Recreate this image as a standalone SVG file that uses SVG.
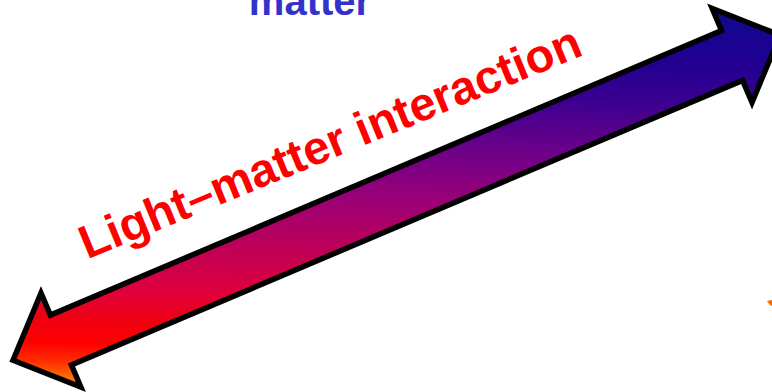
<svg xmlns="http://www.w3.org/2000/svg" width="772" height="392" viewBox="0 0 772 392">
  <style>
    .lbl { font-family: "Liberation Sans", Arial, sans-serif; font-weight: bold; }
    .arrow { stroke: #000000; stroke-width: 5.5; stroke-linejoin: miter; stroke-miterlimit: 10; }
  </style>
  <defs>
    <linearGradient id="grad" gradientUnits="userSpaceOnUse" x1="390" y1="5" x2="380" y2="390">
      <stop offset="0" stop-color="#100890"/>
      <stop offset="0.12" stop-color="#200090"/>
      <stop offset="0.23" stop-color="#3a0090"/>
      <stop offset="0.38" stop-color="#700088"/>
      <stop offset="0.5" stop-color="#9a0078"/>
      <stop offset="0.63" stop-color="#bc005a"/>
      <stop offset="0.76" stop-color="#e0003c"/>
      <stop offset="0.84" stop-color="#f00010"/>
      <stop offset="0.9" stop-color="#ff0000"/>
      <stop offset="0.95" stop-color="#ff3000"/>
      <stop offset="1" stop-color="#ff8000"/>
    </linearGradient>
  </defs>
  <rect width="772" height="392" fill="#ffffff"/>
  <g id="top-label">
    <text class="lbl" x="310" y="15" font-size="40" fill="#3333cc" text-anchor="middle">matter</text>
  </g>
  <g id="connectors">
    <path class="arrow" fill="url(#grad)" d="M 13.0,360.3 L 41.0,293.0 L 50.4,315.1 L 721.6,30.6 L 712.2,8.5 L 780.0,35.2 L 752.0,102.5 L 742.6,80.4 L 71.4,364.9 L 80.8,387.0 Z"/>
  </g>
  <g id="arrow-label">
    <text class="lbl" transform="translate(336,157) rotate(-22.4)" x="0" y="0" font-size="47" fill="#ff0000" text-anchor="middle">Light–matter interaction</text>
  </g>
  <g id="orange-mark">
    <polygon points="767,301 772,300 772,306 770,305" fill="#ff6a00"/>
  </g>
</svg>
